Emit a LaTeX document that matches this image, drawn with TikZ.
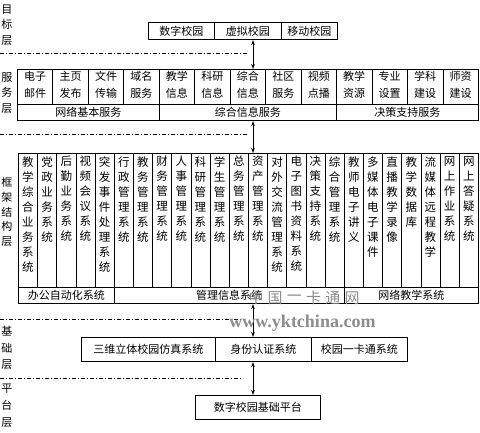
\documentclass[tikz,border=0pt]{standalone}
\usepackage{fontspec}
\usetikzlibrary{arrows.meta}
\newfontfamily\cjk{Noto Sans CJK SC}
\newfontfamily\wmserif{Liberation Serif}
\def\vsEnd{}
\def\vstack#1{\vsA#1\vsEnd}
\def\vsA#1#2{#1\ifx#2\vsEnd\else\\\expandafter\vsA\expandafter#2\fi}
\begin{document}
\begin{tikzpicture}[x=1pt,y=-1pt,line width=0.7pt,
  cell/.style={draw, inner sep=0, anchor=north west, align=center, font=\cjk\fontsize{11}{16.5}\selectfont},
  frame/.style={draw, line width=1.1pt, inner sep=0, anchor=north west},
  vlabel/.style={inner sep=0, align=center, font=\cjk\fontsize{11}{#1}\selectfont},
  vtext/.style={inner sep=0, anchor=north, align=center, font=\cjk\fontsize{11.5}{15}\selectfont},
  sepline/.style={line width=0.6pt, dash pattern=on 4pt off 2pt on 1pt off 2pt},
  link/.style={{Stealth[length=5pt,width=3.6pt]}-{Stealth[length=5pt,width=3.6pt]}, line width=0.8pt},
  wmark/.style={inner sep=0, text=black!45}]
\useasboundingbox[fill=white] (0,0) rectangle (480,433);

% layer labels
\node[vlabel=15.5] (L1) at (7,25) {目\\标\\层};
\node[vlabel=15.5] (L2) at (7,93) {服\\务\\层};
\node[vlabel=14.8] (L3) at (7,212) {框\\架\\结\\构\\层};
\node[vlabel=16.5] (L4) at (7,348) {基\\础\\层};
\node[vlabel=17] (L5) at (7,406) {平\\台\\层};

% separators
\draw[sepline] (0,53) -- (247,53);
\draw[sepline] (0,134) -- (247,134);
\draw[sepline] (0,319) -- (245,319);
\draw[sepline] (0,378) -- (243,378);

% target layer
\node[cell, minimum width=66pt, minimum height=17pt] (t1) at (148,22) {数字校园};
\node[cell, minimum width=67pt, minimum height=17pt] (t2) at (214,22) {虚拟校园};
\node[cell, minimum width=56pt, minimum height=17pt] (t3) at (281,22) {移动校园};
\node[frame, minimum width=189pt, minimum height=17pt] (T) at (148,22) {};

% service layer
\foreach \txt [count=\i from 0] in {电子\\邮件,主页\\发布,文件\\传输,域名\\服务,教学\\信息,科研\\信息,综合\\信息,社区\\服务,视频\\点播,教学\\资源,专业\\设置,学科\\建设,师资\\建设}{
  \node[cell, minimum width=35.46pt, minimum height=35pt] (s\i) at ({17+\i*35.46},69) {};
  \node[inner sep=0, align=center, font=\cjk\fontsize{11}{16.5}\selectfont] (st\i) at ([yshift=2pt]s\i.center) {\txt};
}
\node[cell, minimum width=141.85pt, minimum height=16pt] (g1) at (17,104) {网络基本服务};
\node[cell, minimum width=177.3pt, minimum height=16pt] (g2) at (158.85,104) {综合信息服务};
\node[cell, minimum width=141.85pt, minimum height=16pt] (g3) at (336.15,104) {决策支持服务};
\node[frame, minimum width=461pt, minimum height=51pt] (S) at (17,69) {};

% framework layer
\foreach \txt [count=\i from 0] in {教学综合业务系统,党政业务系统,后勤业务系统,视频会议系统,突发事件处理系统,行政管理系统,教务管理系统,财务管理系统,人事管理系统,科研管理系统,学生管理系统,总务管理系统,资产管理系统,对外交流管理系统,电子图书资料系统,决策支持系统,综合管理系统,教师电子讲义,多媒体电子课件,直播教学录像,教学数据库,流媒体远程教学,网上作业系统,网上答疑系统}{
  \node[cell, minimum width=19.1667pt, minimum height=134pt] (fr\i) at ({18+\i*19.1667},153) {};
  \node[vtext] (ft\i) at ([yshift=-3pt]fr\i.north) {\expandafter\vstack\expandafter{\txt}};
}
\draw[line width=1.8pt] (fr10.north east) -- (fr10.south east);
\node[cell, minimum width=95.83pt, minimum height=16pt] (o1) at (18,287) {办公自动化系统};
\node[cell, minimum width=230pt, minimum height=16pt] (o2) at (113.83,287) {管理信息系统};
\node[cell, minimum width=134.17pt, minimum height=16pt] (o3) at (343.83,287) {网络教学系统};
\node[frame, minimum width=460pt, minimum height=150pt] (F) at (18,153) {};

% base layer
\node[cell, minimum width=134pt, minimum height=24pt] (b1) at (81,337) {三维立体校园仿真系统};
\node[cell, minimum width=96pt, minimum height=24pt] (b2) at (215,337) {身份认证系统};
\node[cell, minimum width=96pt, minimum height=24pt] (b3) at (311,337) {校园一卡通系统};
\node[frame, minimum width=326pt, minimum height=24pt] (B) at (81,337) {};

% platform layer
\node[cell, line width=0.9pt, minimum width=125pt, minimum height=24pt] (P) at (195,395) {数字校园基础平台};

% links
\coordinate (ax) at (253,0);
\draw[link] (T.south -| ax) -- (S.north -| ax);
\draw[link] (S.south -| ax) -- (F.north -| ax);
\draw[link] (F.south -| ax) -- (B.north -| ax);
\draw[link] (B.south -| ax) -- (P.north -| ax);

% watermark
\foreach \c [count=\k from 0] in {中,国,一,卡,通,网}{
  \node[wmark, font=\cjk\fontsize{15}{15}\selectfont] (wm\k) at (256+\k*19.2,298) {\c};
}
\node[wmark, font=\wmserif\bfseries\fontsize{18}{18}\selectfont] (wmurl) at (302.5,323) {www.yktchina.com};
\end{tikzpicture}
\end{document}
